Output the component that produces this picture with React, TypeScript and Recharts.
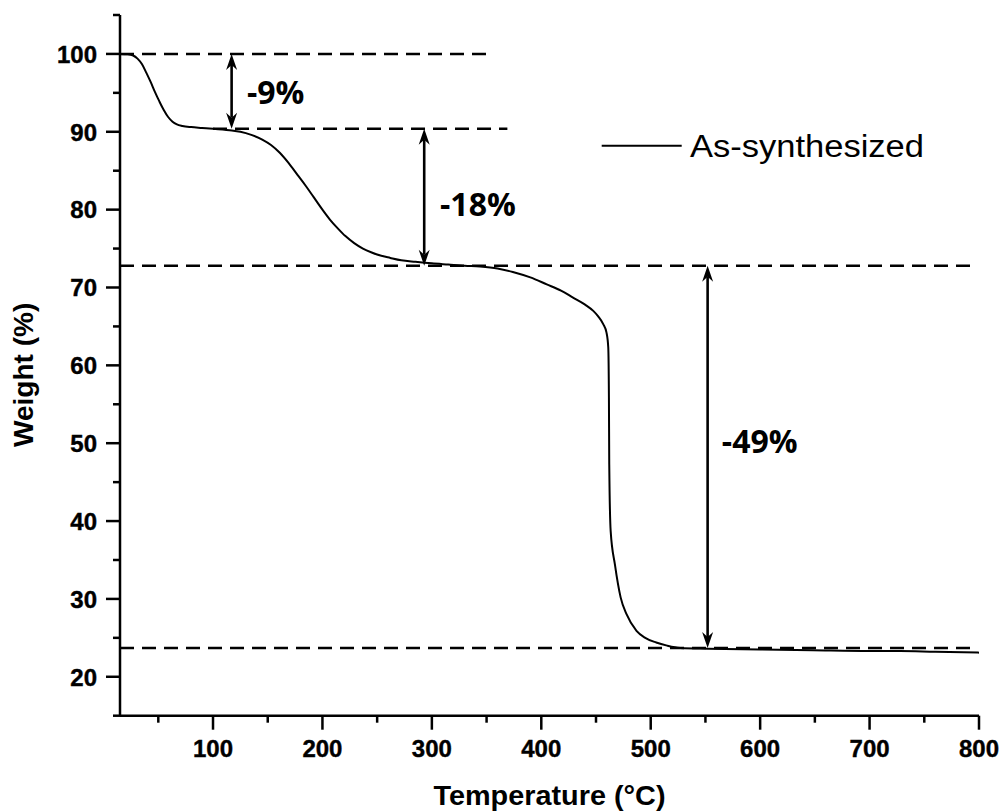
import React from 'react';
import { LineChart, Line, XAxis, YAxis, ReferenceLine, ReferenceDot, Legend } from 'recharts';

// TGA trace of the as-synthesized sample: temperature (°C) vs residual weight (%)
const temperature = [
  15, 22, 27, 31, 35, 39, 43, 47, 51, 55, 59, 63, 67, 72, 80, 90, 100, 115, 125, 135,
  145, 153, 161, 169, 177, 185, 192, 200, 207, 214, 221, 229, 237, 245, 253, 262, 272, 285, 300, 315,
  330, 344, 360, 374, 390, 405, 418, 429, 440, 447.5, 452, 456.6, 459.6, 461.2, 461.8, 462.1, 463.4, 467.3, 472.5, 478,
  487, 495, 505, 515, 527, 552, 600, 648, 700, 728, 760, 800,
];
const weight = [
  100, 99.95, 99.8, 99.4, 98.7, 97.6, 96.4, 95.1, 93.9, 92.8, 91.9, 91.3, 90.95, 90.75, 90.6, 90.5, 90.4, 90.2, 90.0, 89.6,
  89.0, 88.3, 87.3, 86.0, 84.5, 83.0, 81.6, 80.0, 78.7, 77.6, 76.6, 75.7, 75.0, 74.5, 74.1, 73.8, 73.5, 73.3, 73.1, 72.95,
  72.8, 72.7, 72.45, 72.0, 71.3, 70.4, 69.6, 68.7, 67.8, 67.0, 66.3, 65.3, 64.2, 62.3, 55.9, 47.3, 38.7, 34.4, 30.2, 28.0,
  25.9, 25.0, 24.4, 24.0, 23.7, 23.6, 23.5, 23.4, 23.3, 23.3, 23.2, 23.1,
];

const xMajorTicks = [100, 200, 300, 400, 500, 600, 700, 800];
const xMinorTicks = [50, 150, 250, 350, 450, 550, 650, 750];
const yMajorTicks = [20, 30, 40, 50, 60, 70, 80, 90, 100];
const yMinorTicks = [15, 25, 35, 45, 55, 65, 75, 85, 95, 105];

// dashed plateau guides
const plateauLevels = [100, 90.4, 72.8, 23.7];
const plateauFrom = [15, 100, 15, 15];
const plateauTo = [356, 369, 798, 798];

// weight-loss steps
const stepX = [117, 293, 552];
const stepUpper = [100, 90.4, 72.8];
const stepLower = [90.4, 72.8, 23.7];
const stepText = ['-9%', '-18%', '-49%'];
const stepTextX = [131, 307.5, 565];
const stepTextY = [93.6, 79.2, 48.8];

const seriesName = 'As-synthesized';

const data = temperature.map((t, i) => ({ t, w: weight[i] }));

const TICK_FONT = "'Liberation Sans', Arial, sans-serif";
const NOTE_FONT = "'Open Sans', 'Liberation Sans', sans-serif";

const xTicks = [...xMajorTicks, ...xMinorTicks].sort((a, b) => a - b);
const yTicks = [...yMajorTicks, ...yMinorTicks].sort((a, b) => a - b);

const XTick = (props: any) => {
  const { x, y, payload } = props;
  const major = xMajorTicks.includes(payload.value);
  return (
    <g>
      <line x1={x} x2={x} y1={y} y2={y + (major ? 14 : 7)} stroke="#000" strokeWidth={2.5} />
      {major && (
        <text x={x} y={y + 41.5} textAnchor="middle" fontFamily={TICK_FONT} fontWeight="bold" fontSize={24} fill="#000"
          stroke="#000" strokeWidth={0.4}>
          {payload.value}
        </text>
      )}
    </g>
  );
};

const YTick = (props: any) => {
  const { x, y, payload } = props;
  const major = yMajorTicks.includes(payload.value);
  return (
    <g>
      <line x1={x - (major ? 14 : 7)} x2={x} y1={y} y2={y} stroke="#000" strokeWidth={2.5} />
      {major && (
        <text x={x - 23} y={y + 8.8} textAnchor="end" fontFamily={TICK_FONT} fontWeight="bold" fontSize={24} fill="#000"
          stroke="#000" strokeWidth={0.4}>
          {payload.value}
        </text>
      )}
    </g>
  );
};

// vertical double-headed arrow spanning a weight-loss step
const DoubleArrow = (p: any) => {
  const { x1, y1, y2 } = p;
  const x = x1;
  const top = Math.min(y1, y2);
  const bot = Math.max(y1, y2);
  const len = 16;
  const half = 5.5;
  const notch = 11;
  return (
    <g>
      <line x1={x} x2={x} y1={top + notch} y2={bot - notch} stroke="#000" strokeWidth={2.6} />
      <path d={`M${x},${top} L${x - half},${top + len} L${x},${top + notch} L${x + half},${top + len} Z`} fill="#000" />
      <path d={`M${x},${bot} L${x - half},${bot - len} L${x},${bot - notch} L${x + half},${bot - len} Z`} fill="#000" />
    </g>
  );
};

const XTitle = (props: any) => {
  const vb = props.viewBox;
  return (
    <text x={vb.x + vb.width / 2} y={vb.y + 89.5} textAnchor="middle" fontFamily={TICK_FONT} fontWeight="bold" fontSize={28} fill="#000"
      textLength={232} lengthAdjust="spacingAndGlyphs">
      Temperature (°C)
    </text>
  );
};

const YTitle = (props: any) => {
  const vb = props.viewBox;
  const cx = vb.x + 33;
  const cy = vb.y + vb.height / 2 + 9.5;
  return (
    <text x={cx} y={cy} transform={`rotate(-90, ${cx}, ${cy})`} textAnchor="middle" fontFamily={TICK_FONT} fontWeight="bold" fontSize={28} fill="#000">
      Weight (%)
    </text>
  );
};

const LegendBox = (props: any) => {
  const label = props.payload && props.payload[0] ? props.payload[0].value : seriesName;
  return (
    <svg width={360} height={50} style={{ display: 'block', overflow: 'visible' }}>
      <line x1={3.7} x2={83.7} y1={27.7} y2={27.7} stroke="#000" strokeWidth={2} />
      <text x={92} y={38.7} fontFamily={TICK_FONT} fontSize={31} fill="#000" textLength={234} lengthAdjust="spacingAndGlyphs">
        {label}
      </text>
    </svg>
  );
};

export default function App() {
  return (
    <div style={{ position: 'absolute', left: 0, top: 0, width: 1003, height: 812, background: '#fff' }}>
      <LineChart width={1003} height={812} data={data} margin={{ top: 15, right: 24, bottom: 0, left: 0 }}>
        <XAxis
          type="number"
          dataKey="t"
          domain={[15, 800]}
          ticks={xTicks}
          interval={0}
          tickSize={0}
          tickMargin={0}
          tickLine={false}
          tick={XTick}
          axisLine={{ stroke: '#000', strokeWidth: 2.5 }}
          height={96.3}
          allowDataOverflow
          label={XTitle}
        />
        <YAxis
          type="number"
          domain={[15, 105]}
          ticks={yTicks}
          interval={0}
          tickSize={0}
          tickMargin={0}
          tickLine={false}
          tick={YTick}
          axisLine={{ stroke: '#000', strokeWidth: 2.5 }}
          width={120}
          allowDataOverflow
          label={YTitle}
        />
        {plateauLevels.map((lv, i) => (
          <ReferenceLine
            key={`lv-${i}`}
            segment={[{ x: plateauFrom[i], y: lv }, { x: plateauTo[i], y: lv }]}
            stroke="#000"
            strokeWidth={2.5}
            strokeDasharray="14 8"
            ifOverflow="visible"
          />
        ))}
        {stepX.map((sx, i) => (
          <ReferenceLine
            key={`st-${i}`}
            segment={[{ x: sx, y: stepUpper[i] }, { x: sx, y: stepLower[i] }]}
            shape={DoubleArrow}
            ifOverflow="visible"
          />
        ))}
        {stepText.map((s, i) => (
          <ReferenceDot
            key={`tx-${i}`}
            x={stepTextX[i]}
            y={stepTextY[i]}
            r={0}
            ifOverflow="visible"
            shape={(p: any) => (
              <text x={p.cx} y={p.cy} fontFamily={NOTE_FONT} fontWeight="bold" fontSize={32} fill="#000">
                {s}
              </text>
            )}
          />
        ))}
        <Line
          type="monotone"
          dataKey="w"
          name={seriesName}
          stroke="#000"
          strokeWidth={2}
          dot={false}
          activeDot={false}
          isAnimationActive={false}
        />
        <Legend
          layout="vertical"
          align="center"
          verticalAlign="middle"
          wrapperStyle={{ left: 598, top: 118, width: 360, height: 50 }}
          content={LegendBox}
        />
      </LineChart>
    </div>
  );
}
